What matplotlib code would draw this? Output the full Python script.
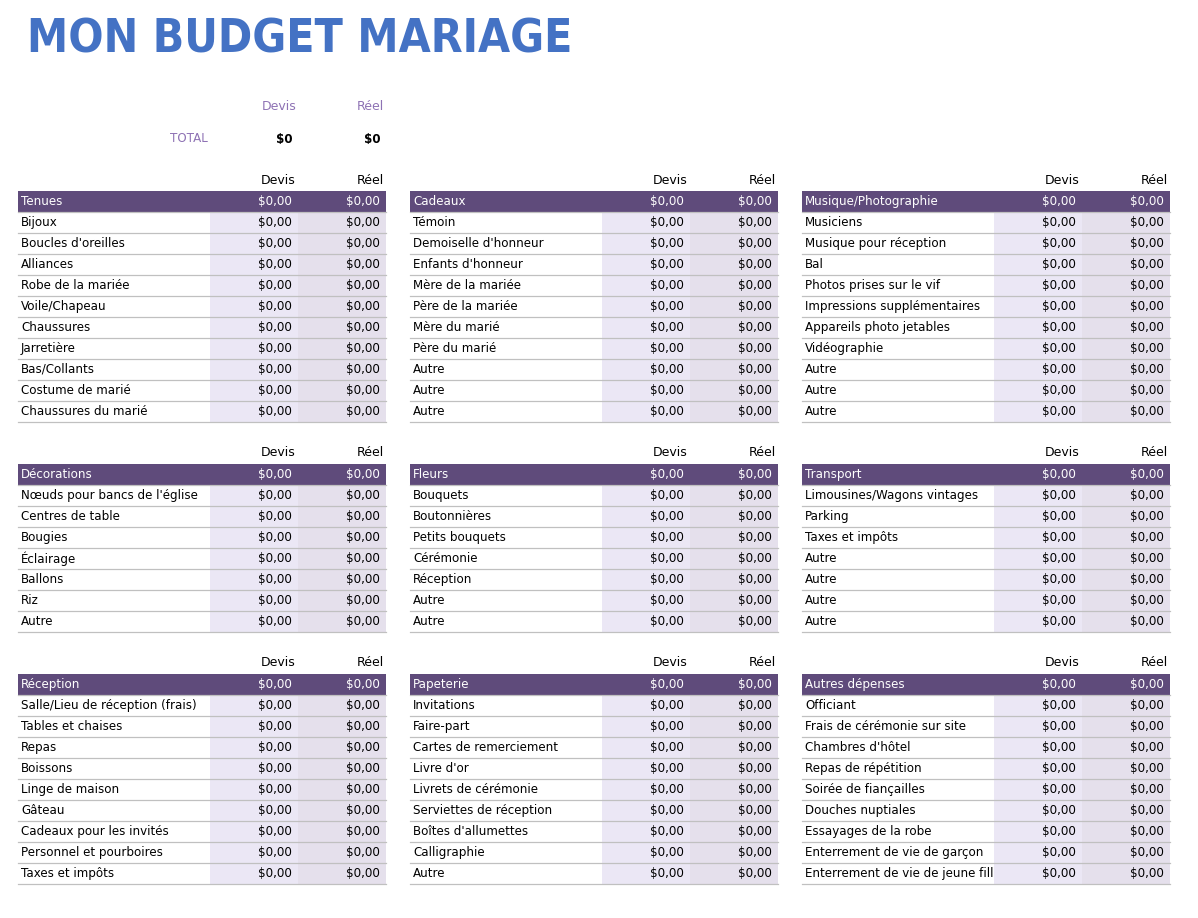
import matplotlib
matplotlib.use("Agg")
import matplotlib.pyplot as plt
from matplotlib.patches import Rectangle

plt.rcParams["font.family"] = ["DejaVu Sans"]

title = "MON BUDGET MARIAGE"
col_labels = ["Devis", "Réel"]

# sections: (title, items, devis values, réel values)
tenues = ["Bijoux", "Boucles d'oreilles", "Alliances", "Robe de la mariée", "Voile/Chapeau",
          "Chaussures", "Jarretière", "Bas/Collants", "Costume de marié", "Chaussures du marié"]
tenues_devis = [0, 0, 0, 0, 0, 0, 0, 0, 0, 0]
tenues_reel = [0, 0, 0, 0, 0, 0, 0, 0, 0, 0]

cadeaux = ["Témoin", "Demoiselle d'honneur", "Enfants d'honneur", "Mère de la mariée",
           "Père de la mariée", "Mère du marié", "Père du marié", "Autre", "Autre", "Autre"]
cadeaux_devis = [0, 0, 0, 0, 0, 0, 0, 0, 0, 0]
cadeaux_reel = [0, 0, 0, 0, 0, 0, 0, 0, 0, 0]

musique = ["Musiciens", "Musique pour réception", "Bal", "Photos prises sur le vif",
           "Impressions supplémentaires", "Appareils photo jetables", "Vidéographie",
           "Autre", "Autre", "Autre"]
musique_devis = [0, 0, 0, 0, 0, 0, 0, 0, 0, 0]
musique_reel = [0, 0, 0, 0, 0, 0, 0, 0, 0, 0]

decorations = ["Nœuds pour bancs de l'église", "Centres de table", "Bougies", "Éclairage",
               "Ballons", "Riz", "Autre"]
decorations_devis = [0, 0, 0, 0, 0, 0, 0]
decorations_reel = [0, 0, 0, 0, 0, 0, 0]

fleurs = ["Bouquets", "Boutonnières", "Petits bouquets", "Cérémonie", "Réception", "Autre", "Autre"]
fleurs_devis = [0, 0, 0, 0, 0, 0, 0]
fleurs_reel = [0, 0, 0, 0, 0, 0, 0]

transport = ["Limousines/Wagons vintages", "Parking", "Taxes et impôts", "Autre", "Autre",
             "Autre", "Autre"]
transport_devis = [0, 0, 0, 0, 0, 0, 0]
transport_reel = [0, 0, 0, 0, 0, 0, 0]

reception = ["Salle/Lieu de réception (frais)", "Tables et chaises", "Repas", "Boissons",
             "Linge de maison", "Gâteau", "Cadeaux pour les invités", "Personnel et pourboires",
             "Taxes et impôts"]
reception_devis = [0, 0, 0, 0, 0, 0, 0, 0, 0]
reception_reel = [0, 0, 0, 0, 0, 0, 0, 0, 0]

papeterie = ["Invitations", "Faire-part", "Cartes de remerciement", "Livre d'or",
             "Livrets de cérémonie", "Serviettes de réception", "Boîtes d'allumettes",
             "Calligraphie", "Autre"]
papeterie_devis = [0, 0, 0, 0, 0, 0, 0, 0, 0]
papeterie_reel = [0, 0, 0, 0, 0, 0, 0, 0, 0]

autres = ["Officiant", "Frais de cérémonie sur site", "Chambres d'hôtel", "Repas de répétition",
          "Soirée de fiançailles", "Douches nuptiales", "Essayages de la robe",
          "Enterrement de vie de garçon", "Enterrement de vie de jeune fille"]
autres_devis = [0, 0, 0, 0, 0, 0, 0, 0, 0]
autres_reel = [0, 0, 0, 0, 0, 0, 0, 0, 0]

grid = [
    [("Tenues", tenues, tenues_devis, tenues_reel),
     ("Cadeaux", cadeaux, cadeaux_devis, cadeaux_reel),
     ("Musique/Photographie", musique, musique_devis, musique_reel)],
    [("Décorations", decorations, decorations_devis, decorations_reel),
     ("Fleurs", fleurs, fleurs_devis, fleurs_reel),
     ("Transport", transport, transport_devis, transport_reel)],
    [("Réception", reception, reception_devis, reception_reel),
     ("Papeterie", papeterie, papeterie_devis, papeterie_reel),
     ("Autres dépenses", autres, autres_devis, autres_reel)],
]

# style
PURPLE = "#5f4b7b"
DEVIS_BG = "#ebe7f5"
REEL_BG = "#e5e0ec"
LINE = "#c0c0c0"
TITLE_BLUE = "#4472c4"
SOFT_PURPLE = "#8e72b4"
FS = 8.6

col_x = [18, 410, 802]
block_top = [191, 464, 674]
LABEL_W, VAL_W, ROW_H = 192, 88, 21


def money(v):
    return "$" + f"{v:.2f}".replace(".", ",")


fig = plt.figure(figsize=(11.98, 9.18), dpi=100)
ax = fig.add_axes([0, 0, 1, 1])
ax.set_xlim(0, 1198)
ax.set_ylim(918, 0)
ax.axis("off")

ax.text(27, 40, title, fontsize=33.2, fontweight="bold", fontstretch="condensed",
        color=TITLE_BLUE, ha="left", va="center")

total_devis = sum(sum(s[2]) for row in grid for s in row)
total_reel = sum(sum(s[3]) for row in grid for s in row)
ax.text(279, 107, col_labels[0], fontsize=FS + 0.4, color=SOFT_PURPLE, ha="center", va="center")
ax.text(370, 107, col_labels[1], fontsize=FS + 0.4, color=SOFT_PURPLE, ha="center", va="center")
ax.text(208, 139, "TOTAL", fontsize=FS, color=SOFT_PURPLE, ha="right", va="center")
ax.text(284, 139, f"${total_devis:g}", fontsize=FS, fontweight="bold", ha="center", va="center")
ax.text(372, 139, f"${total_reel:g}", fontsize=FS, fontweight="bold", ha="center", va="center")

for r, row in enumerate(grid):
    top = block_top[r]
    for c, (name, items, devis, reel) in enumerate(row):
        x0 = col_x[c]
        xd = x0 + LABEL_W
        xr = xd + VAL_W
        x1 = xr + VAL_W
        # column headings
        ax.text(xd + VAL_W - 2, top - 11, col_labels[0], fontsize=FS + 0.4, ha="right", va="center")
        ax.text(x1 - 2, top - 11, col_labels[1], fontsize=FS + 0.4, ha="right", va="center")
        # section bar
        ax.add_patch(Rectangle((x0, top), x1 - x0, ROW_H, facecolor=PURPLE, lw=0, zorder=1))
        yc = top + ROW_H / 2
        ax.text(x0 + 3, yc, name, fontsize=FS, color="white", ha="left", va="center", zorder=4)
        ax.text(xr - 6, yc, money(sum(devis)), fontsize=FS, color="white", ha="right", va="center", zorder=4)
        ax.text(x1 - 6, yc, money(sum(reel)), fontsize=FS, color="white", ha="right", va="center", zorder=4)
        ax.plot([x0, x1], [top + ROW_H, top + ROW_H], color=LINE, lw=0.9, zorder=5)
        for i, item in enumerate(items):
            y = top + ROW_H * (i + 1)
            yc = y + ROW_H / 2
            ax.add_patch(Rectangle((xd, y), VAL_W, ROW_H, facecolor=DEVIS_BG, lw=0, zorder=3))
            ax.add_patch(Rectangle((xr, y), VAL_W, ROW_H, facecolor=REEL_BG, lw=0, zorder=3))
            ax.text(x0 + 3, yc, item, fontsize=FS, ha="left", va="center", zorder=2)
            ax.text(xr - 6, yc, money(devis[i]), fontsize=FS, ha="right", va="center", zorder=4)
            ax.text(x1 - 6, yc, money(reel[i]), fontsize=FS, ha="right", va="center", zorder=4)
            ax.plot([x0, x1], [y + ROW_H, y + ROW_H], color=LINE, lw=0.9, zorder=5)

fig.savefig("out.png", dpi=100, facecolor="white")
